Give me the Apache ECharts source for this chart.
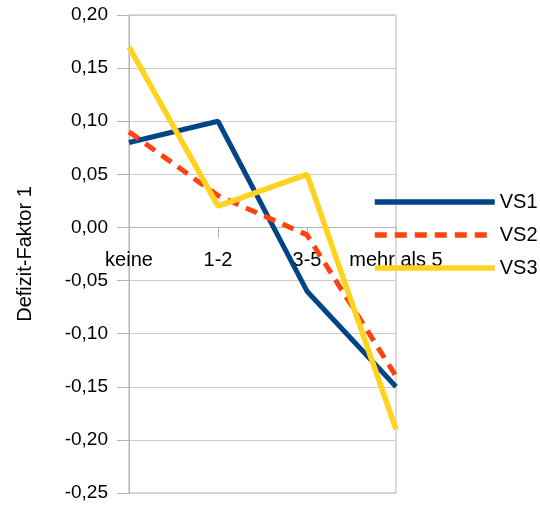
<!DOCTYPE html>
<html>
<head>
<meta charset="utf-8">
<script src="https://cdn.jsdelivr.net/npm/echarts@6/dist/echarts.min.js"></script>
<style>
  html, body { margin: 0; padding: 0; background: #fff; }
  #chart { width: 540px; height: 507px; }
</style>
</head>
<body>
<div id="chart"></div>
<script>
// Categories: number of items
const categories = ['keine', '1-2', '3-5', 'mehr als 5'];

// Mean deficit factor per group
const vs1 = [0.08, 0.10, -0.06, -0.15];
const vs2 = [0.09, 0.03, -0.007, -0.14];
const vs3 = [0.17, 0.02, 0.05, -0.19];

const seriesNames = ['VS1', 'VS2', 'VS3'];

// Y axis range
const yMin = -0.25;
const yMax = 0.20;
const yStep = 0.05;

const font = 'Liberation Sans, Arial, sans-serif';
const axisGray = '#b3b3b3';

const chart = echarts.init(document.getElementById('chart'), null, { renderer: 'canvas' });

chart.setOption({
  animation: false,
  backgroundColor: '#ffffff',
  grid: {
    left: 129, top: 15, right: 144, bottom: 14,
    outerBoundsMode: 'none',
    containLabel: false,
    show: true, borderColor: axisGray, borderWidth: 1
  },
  legend: {
    orient: 'vertical',
    left: 372,
    top: 192,
    padding: 0,
    itemWidth: 120,
    itemHeight: 14,
    itemGap: 13,
    itemStyle: { opacity: 0 },
    lineStyle: { width: 5.5 },
    textStyle: { fontFamily: font, fontSize: 20, color: '#000' },
    data: seriesNames
  },
  xAxis: {
    type: 'category',
    data: categories,
    boundaryGap: false,
    axisLine: { onZero: false, lineStyle: { color: axisGray, width: 1 } },
    axisTick: { show: true, length: 10, interval: 0, lineStyle: { color: axisGray } },
    axisLabel: { fontFamily: font, fontSize: 20, color: '#000', margin: 23, interval: 0, hideOverlap: false },
    splitLine: { show: false }
  },
  yAxis: {
    type: 'value',
    min: yMin,
    max: yMax,
    interval: yStep,
    name: 'Defizit-Faktor 1',
    nameLocation: 'middle',
    nameRotate: 90,
    nameGap: 94,
    nameTextStyle: { fontFamily: font, fontSize: 20, color: '#000' },
    axisLine: { show: true, lineStyle: { color: axisGray, width: 1 } },
    axisTick: { show: true, length: 12, lineStyle: { color: axisGray } },
    axisLabel: {
      fontFamily: font, fontSize: 19, color: '#000', margin: 21,
      formatter: v => v.toFixed(2).replace('.', ',')
    },
    splitLine: { show: true, lineStyle: { color: '#cccccc', width: 1 } }
  },
  series: [
    {
      name: 'VS1', type: 'line', data: vs1, symbol: 'none',
      itemStyle: { color: '#004586' },
      lineStyle: { color: '#004586', width: 5 }
    },
    {
      name: 'VS2', type: 'line', data: vs2, symbol: 'none',
      itemStyle: { color: '#ff420e' },
      lineStyle: { color: '#ff420e', width: 5, type: [12, 8] }
    },
    {
      name: 'VS3', type: 'line', data: vs3, symbol: 'none',
      itemStyle: { color: '#ffd320' },
      lineStyle: { color: '#ffd320', width: 5.5 }
    }
  ]
});

// Lift the category axis (line, ticks, labels) up to the zero value line
const zeroPx = chart.convertToPixel({ yAxisIndex: 0 }, 0);
const bottomPx = chart.convertToPixel({ yAxisIndex: 0 }, yMin);
chart.setOption({ xAxis: { offset: -(bottomPx - zeroPx) } });
</script>
</body>
</html>
